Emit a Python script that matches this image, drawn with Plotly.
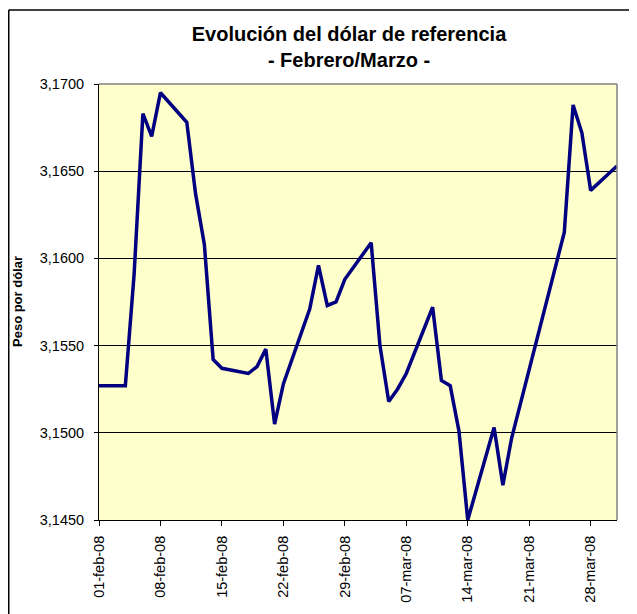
import plotly.graph_objects as go

dates = [
    "2008-02-01", "2008-02-04", "2008-02-05", "2008-02-06", "2008-02-07", "2008-02-08",
    "2008-02-11", "2008-02-12", "2008-02-13", "2008-02-14", "2008-02-15",
    "2008-02-18", "2008-02-19", "2008-02-20", "2008-02-21", "2008-02-22",
    "2008-02-25", "2008-02-26", "2008-02-27", "2008-02-28", "2008-02-29",
    "2008-03-03", "2008-03-04", "2008-03-05", "2008-03-06", "2008-03-07",
    "2008-03-10", "2008-03-11", "2008-03-12", "2008-03-13", "2008-03-14",
    "2008-03-17", "2008-03-18", "2008-03-19",
    "2008-03-25", "2008-03-26", "2008-03-27", "2008-03-28", "2008-03-31",
]
values = [
    3.1527, 3.1527, 3.1591, 3.1683, 3.1670, 3.1695,
    3.1678, 3.1637, 3.1608, 3.1542, 3.1537,
    3.1534, 3.1538, 3.1548, 3.1505, 3.1528,
    3.1571, 3.1596, 3.1573, 3.1575, 3.1588,
    3.1609, 3.1550, 3.1518, 3.1525, 3.1534,
    3.1572, 3.1530, 3.1527, 3.1501, 3.1450,
    3.1503, 3.1470, 3.1497,
    3.1615, 3.1688, 3.1672, 3.1639, 3.1653,
]
tick_dates = ["2008-02-01", "2008-02-08", "2008-02-15", "2008-02-22", "2008-02-29",
              "2008-03-07", "2008-03-14", "2008-03-21", "2008-03-28"]
tick_labels = ["01-feb-08", "08-feb-08", "15-feb-08", "22-feb-08", "29-feb-08",
               "07-mar-08", "14-mar-08", "21-mar-08", "28-mar-08"]
y_ticks = [3.145, 3.150, 3.155, 3.160, 3.165, 3.170]

FONT = "Arial, Liberation Sans, sans-serif"

W, H = 629, 606          # page body has an 8px margin
ML, MR, MT, MB = 91, 20, 76, 94
PW, PH = W - ML - MR, H - MT - MB

fig = go.Figure()
fig.add_trace(go.Scatter(
    x=dates, y=values, mode="lines",
    line=dict(color="#000080", width=3.5),
    showlegend=False, cliponaxis=False,
))

fig.update_layout(
    width=W, height=H,
    margin=dict(l=ML, r=MR, t=MT, b=MB),
    paper_bgcolor="white",
    plot_bgcolor="#FFFFCC",
    separators=",.",
    font=dict(family=FONT, color="black"),
    title=dict(
        text="<b>Evolución del dólar de referencia</b><br><b>- Febrero/Marzo -</b>",
        x=(349 - 8) / W, xanchor="center", xref="container",
        y=1 - 32.5 / H, yanchor="middle", yref="container",
        font=dict(size=20, family=FONT, color="black"),
    ),
)

fig.update_xaxes(
    type="date",
    range=["2008-02-01", "2008-03-31"],
    tickvals=tick_dates, ticktext=tick_labels,
    tickangle=-90,
    ticks="outside", ticklen=5, tickcolor="black",
    ticklabelstandoff=4,
    showline=True, linecolor="black", linewidth=1,
    showgrid=False, zeroline=False,
    tickfont=dict(size=14.5, family=FONT, color="black"),
)
fig.update_yaxes(
    range=[3.145, 3.170],
    tickvals=y_ticks, tickformat=".4f",
    ticks="outside", ticklen=4, tickcolor="black",
    ticklabelstandoff=7,
    showline=True, linecolor="black", linewidth=1,
    showgrid=True, gridcolor="black", gridwidth=1,
    zeroline=False,
    tickfont=dict(size=14.5, family=FONT, color="black"),
)

# plot area border (top / right, gray)
fig.add_shape(type="line", xref="paper", yref="paper", x0=0, x1=1, y0=1, y1=1,
              line=dict(color="#808080", width=1.5), layer="above")
fig.add_shape(type="line", xref="paper", yref="paper", x0=1, x1=1, y0=0, y1=1,
              line=dict(color="#808080", width=1.5), layer="above")

# outer chart border (top and left visible)
bx = (0.75 - ML) / PW
by = 1 + (MT - 2) / PH
fig.add_shape(type="line", xref="paper", yref="paper",
              x0=bx, x1=1 + MR / PW, y0=by, y1=by,
              line=dict(color="black", width=1.5))
fig.add_shape(type="line", xref="paper", yref="paper",
              x0=bx, x1=bx, y0=by, y1=-MB / PH,
              line=dict(color="black", width=1.5))

fig.add_annotation(
    text="<b>Peso por dólar</b>", textangle=-90,
    xref="paper", yref="paper", x=(9 - ML) / PW, y=0.5,
    xanchor="center", yanchor="middle", showarrow=False,
    font=dict(size=13, family=FONT, color="black"),
)

fig.write_html("out.html")
